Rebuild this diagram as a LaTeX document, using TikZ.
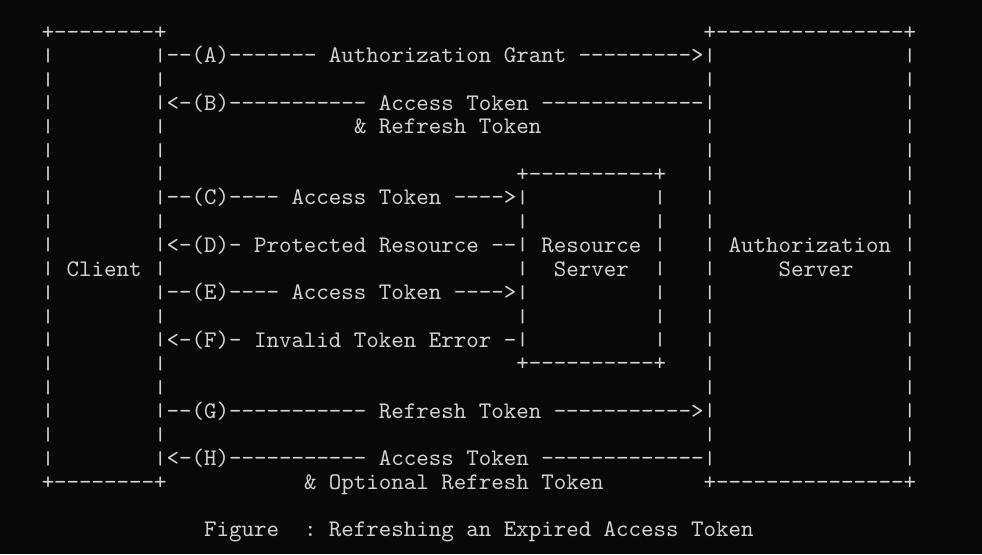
\documentclass[tikz,border=0pt]{standalone}
\usepackage{xcolor}
\usepackage{graphicx}
\usepackage{fontspec}
\usepackage{tikz}
\newfontfamily\asciifont{lmmono10-regular.otf}[WordSpace={1,0,0},PunctuationSpace=WordSpace]
\newcommand\vbar{\raisebox{1pt}{\scalebox{1}[0.78]{|}}}
\definecolor{termfg}{HTML}{D2D2D2}
\definecolor{termbg}{HTML}{080808}

\begin{document}
\frenchspacing
\begin{tikzpicture}[x=9.3675pt,y=-17.775pt,
  txt/.style={anchor=base west,inner sep=0pt,outer sep=0pt,text=termfg,
    font=\fontsize{17.84}{20}\selectfont\asciifont}]
\fill[termbg] (-3.343,-1.6456) rectangle (75.28,21.73);
\useasboundingbox (-3.343,-1.6456) rectangle (75.28,21.73);

\node[txt] (cltop) at (0,0)   {+--------+};
\node[txt] (clbot) at (0,19)  {+--------+};
\node[txt] (astop) at (53,0)  {+---------------+};
\node[txt] (asbot) at (53,19) {+---------------+};
\node[txt] (rstop) at (38,6)  {+----------+};
\node[txt] (rsbot) at (38,14) {+----------+};

\foreach \r in {1,...,18} {
  \node[txt] (cll\r) at (0,\r)  {\vbar};
  \node[txt] (clr\r) at (9,\r)  {\vbar};
  \node[txt] (asl\r) at (53,\r) {\vbar};
  \node[txt] (asr\r) at (69,\r) {\vbar};
}
\foreach \r in {7,...,13} {
  \node[txt] (rsl\r) at (38,\r) {\vbar};
  \node[txt] (rsr\r) at (49,\r) {\vbar};
}

\node[txt] (client)   at (2,10)  {Client};
\node[txt] (res)      at (40,9)  {Resource};
\node[txt] (resserv)  at (41,10) {Server};
\node[txt] (auth)     at (55,9)  {Authorization};
\node[txt] (authserv) at (59,10) {Server};

\node[txt] (msgA)  at (10,1)  {--(A)------- Authorization Grant --------->};
\node[txt] (msgB)  at (10,3)  {<-(B)----------- Access Token -------------};
\node[txt] (rtok)  at (25,4)  {\& Refresh Token};
\node[txt] (msgC)  at (10,7)  {--(C)---- Access Token ---->};
\node[txt] (msgD)  at (10,9)  {<-(D)- Protected Resource --};
\node[txt] (msgE)  at (10,11) {--(E)---- Access Token ---->};
\node[txt] (msgF)  at (10,13) {<-(F)- Invalid Token Error -};
\node[txt] (msgG)  at (10,16) {--(G)----------- Refresh Token ----------->};
\node[txt] (msgH)  at (10,18) {<-(H)----------- Access Token -------------};
\node[txt] (ortok) at (21,19) {\& Optional Refresh Token};

\node[txt] (figlbl) at (13,21) {Figure};
\node[txt] (figcap) at (21,21) {: Refreshing an Expired Access Token};
\end{tikzpicture}
\end{document}
